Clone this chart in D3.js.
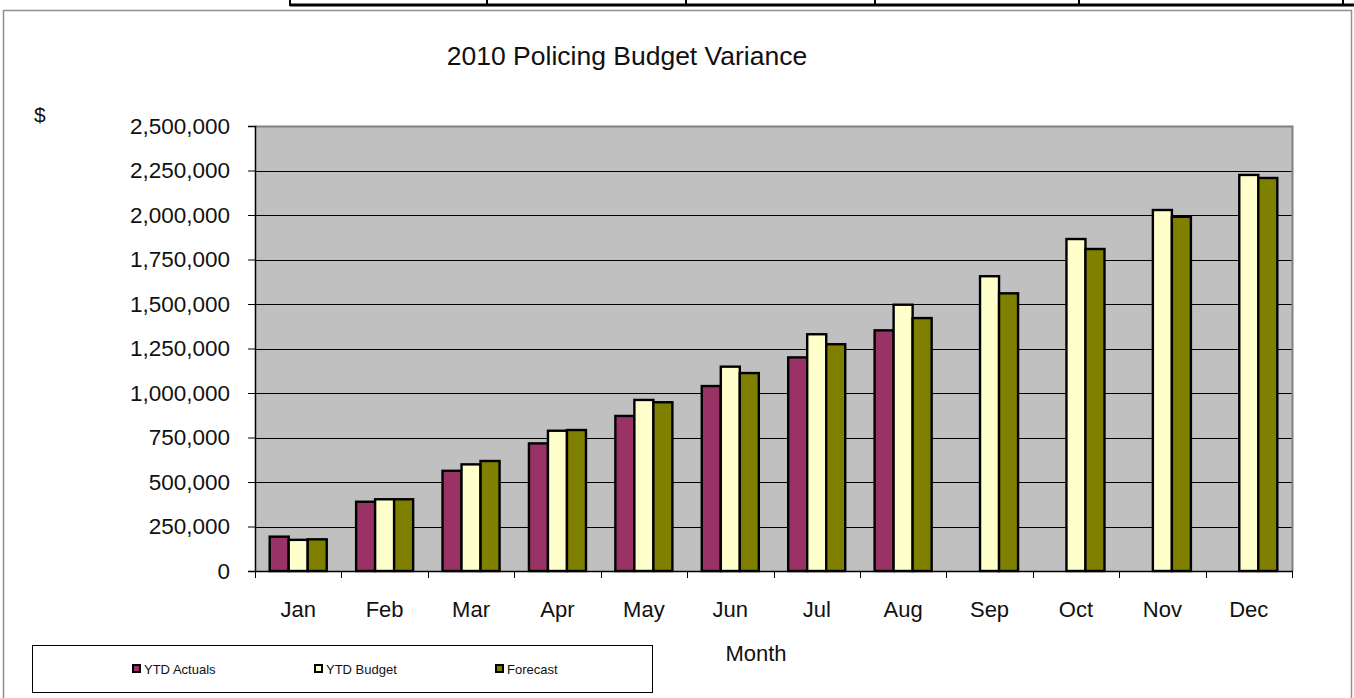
<!DOCTYPE html>
<html>
<head>
<meta charset="utf-8">
<script src="https://cdn.jsdelivr.net/npm/d3@7"></script>
<style>
  html, body { margin: 0; padding: 0; background: #ffffff; }
  svg { display: block; }
  text { font-family: "Liberation Sans", Arial, sans-serif; fill: #111; }
</style>
</head>
<body>
<svg id="chart" width="1354" height="698"></svg>
<script>
// ---- data ----
const months = ["Jan","Feb","Mar","Apr","May","Jun","Jul","Aug","Sep","Oct","Nov","Dec"];
const seriesNames = ["YTD Actuals","YTD Budget","Forecast"];
const ytdActuals  = [193000, 389000, 563000, 717000, 871000, 1039000, 1200000, 1352000, null, null, null, null];
const ytdBudget   = [175000, 403000, 599000, 788000, 961000, 1148000, 1330000, 1496000, 1656000, 1865000, 2028000, 2225000];
const forecast    = [178000, 403000, 618000, 792000, 948000, 1112000, 1274000, 1421000, 1560000, 1809000, 1990000, 2208000];
const yTicks      = [0, 250000, 500000, 750000, 1000000, 1250000, 1500000, 1750000, 2000000, 2250000, 2500000];
const seriesColors = ["#993366", "#FFFFCC", "#808000"];

const chartTitle = "2010 Policing Budget Variance";
const xTitle = "Month";
const yTitle = "$";

// ---- layout ----
const svg = d3.select("#chart");
const plot = { left: 255, right: 1292, top: 126, bottom: 571 };

// decorative spreadsheet table fragment at the top
const tableSeps = [290, 487, 686, 875, 1079, 1343];
svg.append("line").attr("x1", 290).attr("x2", 1354).attr("y1", 5).attr("y2", 5)
  .attr("stroke", "#000").attr("stroke-width", 3);
svg.selectAll("line.sep").data(tableSeps).join("line").attr("class","sep")
  .attr("x1", d => d).attr("x2", d => d).attr("y1", 0).attr("y2", 6)
  .attr("stroke", "#000").attr("stroke-width", 2);

// chart area border
svg.append("rect").attr("x", 3.5).attr("y", 10.5).attr("width", 1348).attr("height", 700)
  .attr("fill", "#fff").attr("stroke", "#909090").attr("stroke-width", 1.5);

const x0 = d3.scaleBand().domain(months).range([plot.left, plot.right])
  .paddingInner(0.34).paddingOuter(0.17);
const x1 = d3.scaleBand().domain(seriesNames).range([0, x0.bandwidth()]).padding(0);
const y = d3.scaleLinear().domain([0, 2500000]).range([plot.bottom, plot.top]);

// plot background
svg.append("rect").attr("x", plot.left).attr("y", plot.top)
  .attr("width", plot.right - plot.left).attr("height", plot.bottom - plot.top)
  .attr("fill", "#C0C0C0");

// gridlines
svg.append("g").selectAll("line").data(yTicks.filter(d => d > 0 && d < 2500000)).join("line")
  .attr("x1", plot.left).attr("x2", plot.right)
  .attr("y1", d => Math.round(y(d)) + 0.5).attr("y2", d => Math.round(y(d)) + 0.5)
  .attr("stroke", "#000").attr("stroke-width", 1);

// plot border top/right
svg.append("path")
  .attr("d", `M${plot.left},${plot.top + 0.5}H${plot.right + 0.5}V${plot.bottom}`)
  .attr("fill", "none").attr("stroke", "#808080").attr("stroke-width", 2);

// bars
const seriesData = [ytdActuals, ytdBudget, forecast];
const groups = svg.append("g").selectAll("g").data(months).join("g")
  .attr("transform", d => `translate(${x0(d)},0)`);
groups.selectAll("rect")
  .data((m, i) => seriesNames.map((s, k) => ({ s, k, v: seriesData[k][i] })).filter(d => d.v != null))
  .join("rect")
  .attr("x", d => x1(d.s))
  .attr("y", d => y(d.v))
  .attr("width", x1.bandwidth())
  .attr("height", d => y(0) - y(d.v))
  .attr("fill", d => seriesColors[d.k])
  .attr("stroke", "#000").attr("stroke-width", 2.4);

// y axis
const yAxis = d3.axisLeft(y).tickValues(yTicks).tickFormat(d3.format(",")).tickSizeOuter(0).tickSize(7).tickPadding(18);
const gy = svg.append("g").attr("transform", `translate(${plot.left},0)`).call(yAxis);
gy.select(".domain").attr("stroke", "#000").attr("stroke-width", 1.5);
gy.selectAll(".tick line").attr("stroke", "#000");
gy.selectAll(".tick text").attr("font-size", 22.5).attr("font-family", "Liberation Sans, Arial, sans-serif").attr("fill", "#111");

// x axis: ticks at category boundaries
const xAxisG = svg.append("g");
xAxisG.append("line").attr("x1", plot.left).attr("x2", plot.right + 1)
  .attr("y1", plot.bottom + 0.5).attr("y2", plot.bottom + 0.5).attr("stroke", "#000").attr("stroke-width", 1.5);
const boundaries = months.map(m => x0(m) - x0.step() * x0.paddingOuter()).concat([plot.right]);
xAxisG.selectAll("line.tk").data(boundaries).join("line").attr("class", "tk")
  .attr("x1", d => Math.round(d) + 0.5).attr("x2", d => Math.round(d) + 0.5)
  .attr("y1", plot.bottom).attr("y2", plot.bottom + 7).attr("stroke", "#000");
xAxisG.selectAll("text").data(months).join("text")
  .attr("x", d => x0(d) + x0.bandwidth() / 2)
  .attr("y", 617)
  .attr("text-anchor", "middle").attr("font-size", 22).text(d => d);

// titles
svg.append("text").attr("x", 627).attr("y", 65).attr("text-anchor", "middle")
  .attr("font-size", 26.5).text(chartTitle);
svg.append("text").attr("x", 756).attr("y", 661).attr("text-anchor", "middle")
  .attr("font-size", 22).text(xTitle);
svg.append("text").attr("x", 34).attr("y", 122).attr("font-size", 21).text(yTitle);

// legend
svg.append("rect").attr("x", 32.5).attr("y", 645.5).attr("width", 620).attr("height", 47)
  .attr("fill", "#fff").attr("stroke", "#000").attr("stroke-width", 1);
const legendX = [133, 315, 496];
const lg = svg.append("g").selectAll("g").data(seriesNames).join("g")
  .attr("transform", (d, i) => `translate(${legendX[i]},669)`);
lg.append("rect").attr("x", 0).attr("y", -4).attr("width", 7).attr("height", 7)
  .attr("fill", (d, i) => seriesColors[i]).attr("stroke", "#000").attr("stroke-width", 2);
lg.append("text").attr("x", 11).attr("y", 4.5)
  .attr("font-family", "Liberation Sans Narrow, Arial Narrow, Liberation Sans, sans-serif")
  .attr("font-size", 13).text(d => d);
</script>
</body>
</html>
